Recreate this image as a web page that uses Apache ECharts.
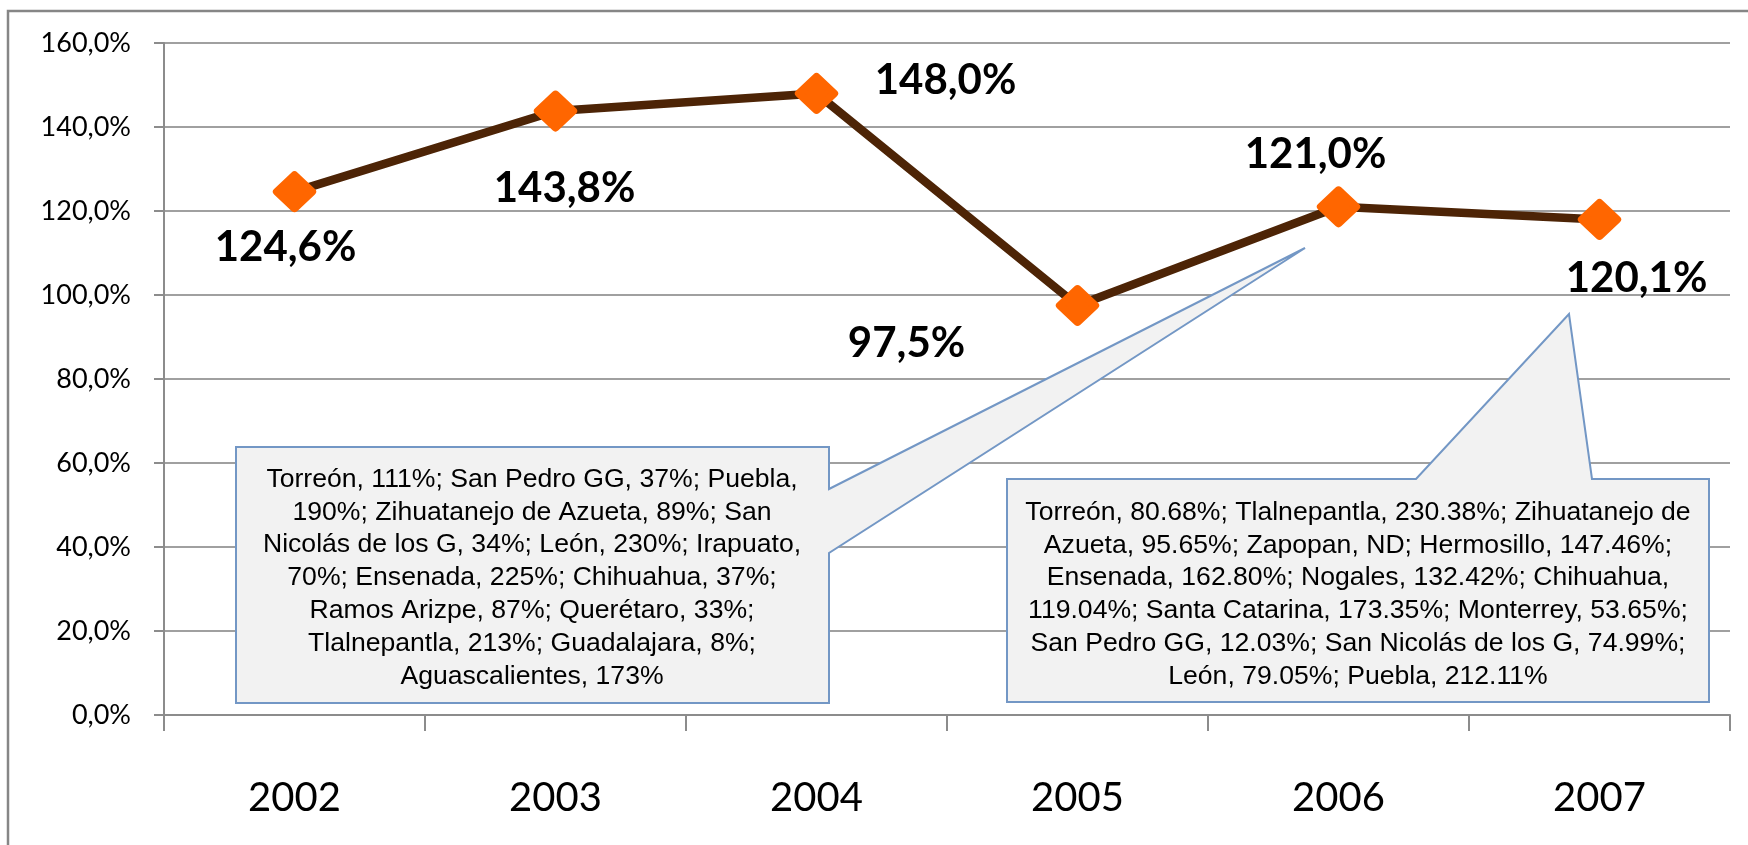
<!DOCTYPE html>
<html>
<head>
<meta charset="utf-8">
<script src="https://cdn.jsdelivr.net/npm/echarts@6/dist/echarts.min.js"></script>
<style>
html,body{margin:0;padding:0;background:#fff;}
#chart{width:1748px;height:845px;}
</style>
</head>
<body>
<div id="chart"></div>
<script>
const years = ['2002', '2003', '2004', '2005', '2006', '2007'];
const values = [124.6, 143.8, 148.0, 97.5, 121.0, 118.0];
const valueLabels = ['124,6%', '143,8%', '148,0%', '97,5%', '121,0%', '120,1%'];
const yMin = 0, yMax = 160, yStep = 20;
const callout2006 = [
  'Torreón, 111%; San Pedro GG, 37%; Puebla,',
  '190%; Zihuatanejo de Azueta, 89%; San',
  'Nicolás de los G, 34%; León, 230%; Irapuato,',
  '70%; Ensenada, 225%; Chihuahua, 37%;',
  'Ramos Arizpe, 87%; Querétaro, 33%;',
  'Tlalnepantla, 213%; Guadalajara, 8%;',
  'Aguascalientes, 173%'
];
const callout2007 = [
  'Torreón, 80.68%; Tlalnepantla, 230.38%; Zihuatanejo de',
  'Azueta, 95.65%; Zapopan, ND; Hermosillo, 147.46%;',
  'Ensenada, 162.80%; Nogales, 132.42%; Chihuahua,',
  '119.04%; Santa Catarina, 173.35%; Monterrey, 53.65%;',
  'San Pedro GG, 12.03%; San Nicolás de los G, 74.99%;',
  'León, 79.05%; Puebla, 212.11%'
];

const chart = echarts.init(document.getElementById('chart'), null, {renderer: 'canvas'});

// label placement (styling, not data)
const labelShift = [[-9, 56], [9, 77], [129, -13], [-171, 38], [-23, -52], [37, 59]];

const calloutFill = '#F2F2F2';
const calloutStroke = '#7397C5';
const calloutFont = '26.6px "Liberation Sans", Arial, sans-serif';

const option = {
  animation: false,
  backgroundColor: '#ffffff',
  grid: {left: 164, right: 18, top: 43, bottom: 130, containLabel: false},
  xAxis: {
    type: 'category',
    data: years,
    boundaryGap: true,
    axisLine: {show: true, lineStyle: {color: '#8C8C8C', width: 2}},
    axisTick: {show: true, length: 16, alignWithLabel: false, lineStyle: {color: '#8C8C8C', width: 2}},
    axisLabel: {margin: 63, fontFamily: 'Lato, "Open Sans", sans-serif', fontSize: 40, color: '#000'},
    splitLine: {show: false}
  },
  yAxis: {
    type: 'value',
    min: yMin, max: yMax, interval: yStep,
    axisLine: {show: true, lineStyle: {color: '#8C8C8C', width: 2}},
    axisTick: {show: true, length: 10, lineStyle: {color: '#8C8C8C', width: 2}},
    axisLabel: {
      margin: 33, fontFamily: 'Lato, "Open Sans", sans-serif', fontSize: 27, color: '#000',
      formatter: v => v.toFixed(1).replace('.', ',') + '%'
    },
    splitLine: {show: true, lineStyle: {color: '#A0A0A0', width: 2}}
  },
  series: [{
    type: 'line',
    data: values.map((v, i) => ({value: v, label: {offset: labelShift[i]}})),
    lineStyle: {color: '#4D2406', width: 8.5},
    symbol: 'diamond',
    symbolSize: [35, 33],
    itemStyle: {color: '#FF6600', borderColor: '#FF6600', borderWidth: 8, borderJoin: 'round'},
    z: 5,
    label: {
      show: true,
      position: 'inside',
      align: 'center',
      verticalAlign: 'middle',
      fontFamily: 'Lato, "Open Sans", sans-serif',
      fontWeight: 'bold',
      fontSize: 42,
      color: '#000',
      formatter: p => valueLabels[p.dataIndex]
    }
  }],
  graphic: [
    {
      type: 'rect', silent: true, z: 0,
      shape: {x: 8, y: 11, width: 1760, height: 860},
      style: {fill: 'none', stroke: '#868686', lineWidth: 2.5}
    },
    {
      type: 'polygon', z: 10,
      shape: {points: [[236, 447], [829, 447], [829, 489], [1305, 248], [829, 553], [829, 703], [236, 703]]},
      style: {fill: calloutFill, stroke: calloutStroke, lineWidth: 2, lineJoin: 'miter'}
    },
    {
      type: 'text', z: 11,
      style: {
        x: 532, y: 463, text: callout2006.join('\n'),
        font: calloutFont, fill: '#000', align: 'center', verticalAlign: 'top', lineHeight: 32.8
      }
    },
    {
      type: 'polygon', z: 10,
      shape: {points: [[1007, 479], [1416, 479], [1569, 314], [1592, 479], [1709, 479], [1709, 702], [1007, 702]]},
      style: {fill: calloutFill, stroke: calloutStroke, lineWidth: 2, lineJoin: 'miter'}
    },
    {
      type: 'text', z: 11,
      style: {
        x: 1358, y: 496, text: callout2007.join('\n'),
        font: calloutFont, fill: '#000', align: 'center', verticalAlign: 'top', lineHeight: 32.8
      }
    }
  ]
};
chart.setOption(option);
</script>
</body>
</html>
